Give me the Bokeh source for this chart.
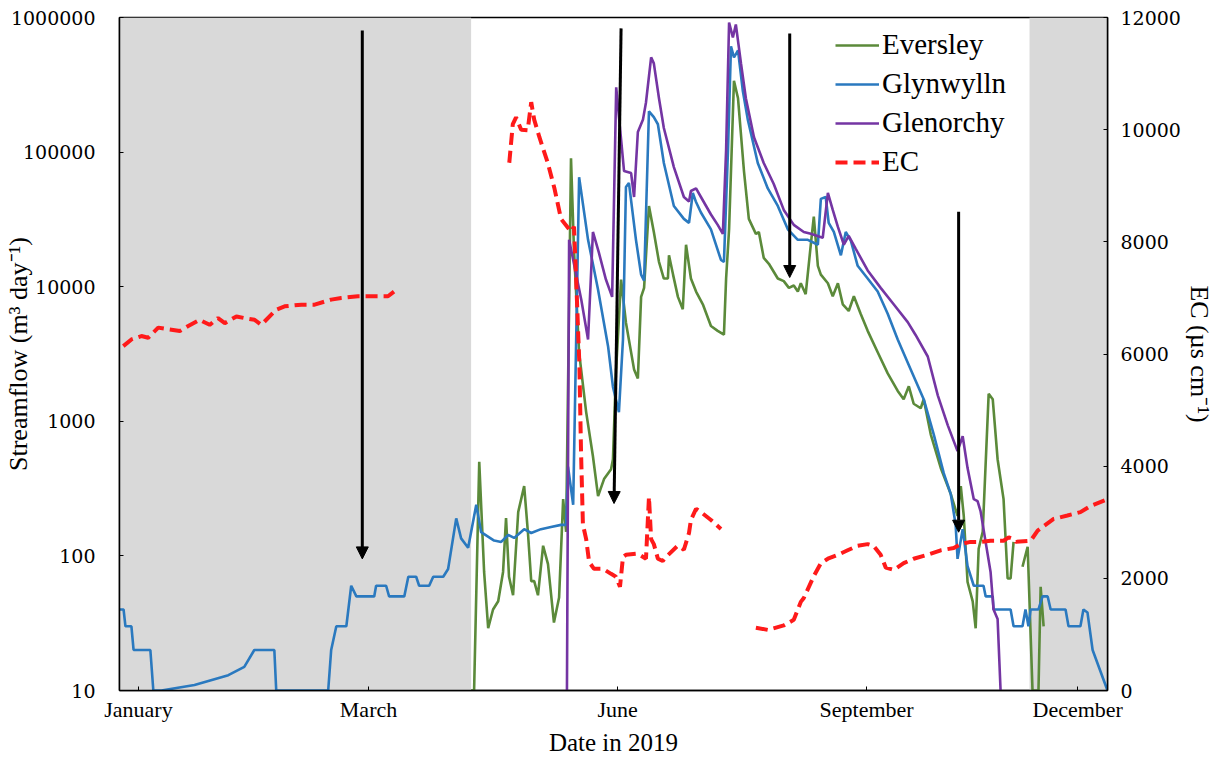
from bokeh.plotting import figure
from bokeh.models import (Range1d, LinearAxis, LinearScale, FixedTicker, PrintfTickFormatter,
                          BoxAnnotation, Arrow, NormalHead, Legend, LegendItem)
from bokeh.embed import file_html
from bokeh.resources import INLINE

NaN = float("nan")

# ---- Glynwylln streamflow (day of year, m3/day) ----
gly_day = [0, 1.5, 2.2, 4.4, 5.2, 11.4, 12.5, 15.5, 27.7, 40.2,
           46.1, 49.8, 57.2, 57.9, 77.1, 78.2, 80.1, 83.8, 85.6, 87.5,
           94.1, 94.8, 98.5, 99.6, 105.2, 106.7, 109.6, 110.7, 114.4, 115.9,
           119.6, 121.4, 124.4, 126.2, 128.8, 131.8, 133.6, 138.4, 141.0, 143.6,
           145.8, 149.5, 152.1, 155.7, 159.4, 163.1, 165.0, 165.7, 167.6, 169.8,
           173.1, 176.8, 180.5, 182.3, 184.5, 186.0, 187.1, 188.2, 190.8, 192.7,
           193.8, 195.6, 197.4, 198.9, 201.1, 204.8, 208.5, 210.4, 211.8, 212.9,
           214.8, 218.5, 222.2, 223.3, 224.8, 225.9, 227.0, 228.5, 230.3, 232.1,
           235.8, 239.5, 243.2, 246.9, 250.6, 254.3, 258.0, 259.1, 260.9, 262.0,
           263.9, 266.5, 268.3, 270.2, 272.7, 276.4, 280.1, 283.8, 287.5, 292.3,
           297.1, 300.8, 304.5, 307.1, 308.9, 309.6, 311.5, 313.3, 315.6, 317.0,
           319.2, 320.0, 322.6, 322.9, 329.2, 330.3, 333.6, 334.7, 335.8, 336.6,
           339.5, 341.0, 342.9, 344.0, 349.5, 350.6, 355.0, 356.1, 357.6, 359.5,
           365]
gly_flow = [40, 40, 30, 30, 20, 20, 10, 10, 11, 13,
            15, 20, 20, 10, 10, 20, 30, 30, 60, 50,
            50, 60, 60, 50, 50, 70, 70, 60, 60, 70,
            70, 80, 190, 135, 115, 240, 150, 130, 127, 143,
            136, 158, 148, 158, 164, 170, 170, 460, 240, 65000,
            22300, 9500, 3600, 1800, 1170, 4050, 55000, 59000, 22300, 12300,
            11100, 201000, 182000, 161000, 83000, 39800, 31900, 29800, 49700, 43000,
            35600, 26700, 15800, 15300, 103500, 610000, 506000, 570000, 283000, 175000,
            83000, 53700, 39800, 26700, 22300, 22300, 20500, 44900, 46400, 29800,
            25500, 17100, 25500, 21900, 14300, 11500, 9200, 6300, 4050, 2430,
            1460, 800, 412, 288, 170, 95, 158, 84, 60, 60,
            60, 50, 50, 40, 40, 30, 30, 40, 30, 40,
            40, 50, 50, 40, 40, 30, 30, 40, 38, 20,
            10]

# ---- Eversley streamflow ----
eve_day = [129.9, 131.0, 132.9, 134.7, 136.2, 138.0, 139.9, 141.7, 142.8, 143.9,
           145.4, 147.3, 149.5, 150.9, 152.1, 153.2, 154.6, 156.5, 158.3, 160.5,
           162.4, 163.9, 165.0, 166.8, 167.9, 169.8, 172.4, 174.9, 176.8, 179.0,
           181.6, 182.3, 183.4, 185.3, 187.1, 190.1, 191.5, 192.7, 193.8, 195.6,
           197.4, 199.3, 201.1, 202.6, 203.0, 204.5, 206.3, 208.1, 209.3, 211.1,
           213.0, 215.5, 218.5, 221.0, 223.3, 224.1, 225.2, 227.0, 228.5, 230.7,
           232.5, 235.1, 236.2, 238.0, 239.9, 243.2, 245.4, 247.3, 249.1, 250.6,
           251.7, 253.5, 255.4, 256.5, 258.0, 259.1, 261.7, 263.5, 265.4, 267.2,
           269.4, 271.3, 273.8, 276.4, 280.1, 283.8, 287.5, 289.7, 291.6, 293.4,
           296.0, 297.1, 299.7, 303.4, 307.1, 309.6, 310.8, 311.9, 313.3, 315.2,
           316.3, 317.4, 318.9, 321.1, 322.6, 324.4, 326.6, 328.1, 329.2, 330.3,
           331.5, 333.6, 335.5, 337.3, 339.5, 340.3, 341.4]
eve_flow = [10, 10, 500, 76, 29, 40, 46, 76, 191, 70,
            51, 212, 330, 148, 65, 65, 51, 119, 87, 32,
            49, 264, 151, 90000, 18800, 3240, 1170, 550, 278, 372,
            440, 523, 2300, 11300, 5400, 2430, 2080, 8400, 9800, 39800,
            25500, 15300, 11500, 11500, 17100, 12300, 8400, 6800, 20500, 11500,
            9200, 7400, 5100, 4700, 4400, 11500, 26700, 339000, 251000, 72300,
            31900, 24700, 25500, 16400, 14800, 11500, 11000, 9800, 10200, 9200,
            10600, 8800, 20600, 33200, 14300, 12300, 10600, 8500, 10600, 7400,
            6600, 8500, 6300, 4700, 3260, 2270, 1680, 1460, 1820, 1350,
            1250, 1460, 800, 450, 288, 198, 330, 198, 64, 46,
            29, 113, 151, 1600, 1460, 523, 264, 68, 68, 127,
            NaN, 83, 117, 10, 10, 59, 30]

# ---- Glenorchy streamflow ----
gle_day = [165.3, 166.1, 170.6, 173.1, 174.9, 177.1, 179.7, 182.0, 183.5, 186.4,
           189.0, 190.1, 191.5, 193.4, 194.5, 196.4, 197.4, 199.3, 201.1, 204.8,
           208.5, 210.4, 211.1, 213.0, 214.8, 218.5, 221.0, 222.9, 224.1, 225.2,
           226.6, 227.7, 229.6, 231.4, 234.4, 238.0, 241.7, 245.4, 249.1, 252.8,
           255.4, 259.8, 261.7, 263.5, 265.4, 267.6, 269.4, 272.0, 276.4, 281.2,
           286.0, 291.2, 294.1, 298.6, 302.3, 306.0, 309.6, 311.5, 313.3, 315.6,
           317.0, 318.1, 321.8, 322.9, 324.4, 325.5]
gle_flow = [10, 22300, 8000, 4050, 25500, 17900, 11300, 8400, 303000, 72300,
            69800, 46400, 141000, 175000, 234000, 506000, 456000, 251000, 151000, 77400,
            46400, 43000, 51400, 53700, 46400, 34400, 28800, 24700, 103500, 918000,
            711000, 887000, 456000, 251000, 129000, 83000, 57900, 37200, 28800, 25500,
            24700, 23100, 49700, 37200, 27800, 20500, 23900, 19100, 13200, 9800,
            7400, 5460, 4380, 3030, 1560, 933, 600, 774, 449, 264,
            255, 215, 76, 40, 34, 10]

# ---- Electrical conductivity (uS/cm), right axis ----
ec_day = [1.4, 4.4, 8.1, 10.6, 14.3, 18.0, 22.3, 25.4, 29.6, 33.3,
          36.4, 38.9, 43.2, 46.2, 49.9, 52.4, 57.9, 61.0, 67.2, 72.1,
          78.2, 81.9, 88.1, 93.0, 99.2, 101.6, 120.0,
          144.0, 145.3, 146.5, 148.4, 150.8, 152.1, 153.2, 155.1, 158.2, 160.7,
          163.1, 166.8, 167.9, 168.7, 169.9, 170.5, 171.2, 172.4, 173.5, 175.3,
          178.6, 181.6, 183.4, 184.9, 186.0, 187.1, 191.5, 194.5, 195.6, 196.4,
          197.4, 198.9, 200.7, 201.9, 206.2, 208.5, 210.4, 211.1, 213.0, 214.8,
          218.5, 222.2, 228.0,
          235.1, 239.5, 245.4, 249.1, 251.7, 252.8, 256.5, 259.1, 261.7, 265.4,
          269.0, 272.7, 276.4, 278.6, 281.2, 283.1, 286.0, 289.7, 293.4, 298.6,
          303.4, 308.2, 310.8, 314.4, 318.1, 321.8, 326.6, 328.5, 330.3, 331.1,
          336.6, 339.2, 345.1, 350.2, 355.0, 358.7, 365]
ec_val = [6140, 6260, 6320, 6290, 6470, 6440, 6410, 6500, 6610, 6520,
          6640, 6550, 6670, 6640, 6610, 6520, 6790, 6850, 6880, 6880,
          6970, 7000, 7030, 7030, 7030, 7120, NaN,
          9410, 10100, 10220, 10000, 9990, 10490, 10180, 9870, 9410, 8950,
          8410, 8180, 8270, 7340, 5800, 4270, 2960, 2700, 2290, 2170,
          2170, 2080, 2030, 1850, 2380, 2420, 2440, 2350, 3450, 2700,
          2610, 2350, 2310, 2380, 2580, 2510, 2810, 3040, 3240, 3180,
          3040, 2880, NaN,
          1120, 1080, 1160, 1260, 1580, 1650, 2040, 2270, 2350, 2420,
          2500, 2580, 2610, 2580, 2420, 2190, 2150, 2270, 2350, 2420,
          2500, 2540, 2610, 2650, 2650, 2670, 2670, 2730, 2700, 2650,
          2670, 2850, 3060, 3120, 3180, 3290, 3410]

# ---- axis ticks ----
month_ticks = [7, 92, 184, 276, 354]
month_labels = ["January", "March", "June", "September", "December"]
flow_ticks = [10, 100, 1000, 10000, 100000, 1000000]
ec_ticks = [0, 2000, 4000, 6000, 8000, 10000, 12000]

# shaded periods (day of year)
shade_start = [0, 336.2]
shade_end = [129.9, 365]

# event arrows: (day at top, flow at top, day at tip, flow at tip)
arrow_day_top = [89.7, 185.3, 247.6, 310.0]
arrow_flow_top = [800000, 830000, 760000, 36000]
arrow_day_tip = [89.7, 182.7, 247.6, 310.0]
arrow_flow_tip = [95, 245, 11700, 150]

SERIF = "Liberation Serif"
TICKFONT = "DejaVu Serif"

p = figure(width=1216, height=758, x_range=Range1d(0, 365), y_range=Range1d(10, 1e6),
           y_axis_type="log", output_backend="svg", toolbar_location=None,
           min_border_left=118, min_border_right=109, min_border_top=17, min_border_bottom=66)
p.extra_y_ranges = {"ec": Range1d(0, 12000)}
p.extra_y_scales = {"ec": LinearScale()}
p.xgrid.visible = False
p.ygrid.visible = False
p.outline_line_color = "black"
p.outline_line_width = 1.5
p.background_fill_color = "white"

for s, e in zip(shade_start, shade_end):
    p.add_layout(BoxAnnotation(left=s, right=e, fill_color="#d9d9d9", fill_alpha=1.0,
                               line_alpha=0, level="underlay"))

r_eve = p.line(eve_day, eve_flow, line_color="#5b8a3a", line_width=2.6)
r_gly = p.line(gly_day, gly_flow, line_color="#2a79bf", line_width=2.6)
r_gle = p.line(gle_day, gle_flow, line_color="#7435a3", line_width=2.6)
r_ec = p.line(ec_day, ec_val, y_range_name="ec", line_color="#ff1a1a", line_width=4,
              line_dash="12 6")

for xt, yt, xe, ye in zip(arrow_day_top, arrow_flow_top, arrow_day_tip, arrow_flow_tip):
    p.add_layout(Arrow(end=NormalHead(size=12, fill_color="black", line_color="black"),
                       x_start=xt, y_start=yt, x_end=xe, y_end=ye,
                       line_width=3, line_color="black"))

# axes
lax = p.yaxis[0]
lax.ticker = FixedTicker(ticks=flow_ticks)
lax.formatter = PrintfTickFormatter(format="%d")
rax = LinearAxis(y_range_name="ec", ticker=FixedTicker(ticks=ec_ticks))
p.add_layout(rax, "right")
bax = p.xaxis[0]
bax.ticker = FixedTicker(ticks=month_ticks)
bax.major_label_overrides = {t: l for t, l in zip(month_ticks, month_labels)}

for ax in (lax, rax, bax):
    ax.axis_line_color = "black"
    ax.axis_line_width = 1.5
    ax.major_tick_in = 4
    ax.major_tick_out = 0
    ax.minor_tick_in = 0
    ax.minor_tick_out = 0
    ax.major_tick_line_color = "black"
    ax.major_label_text_color = "black"
    ax.axis_label_text_font = SERIF
    ax.axis_label_text_font_style = "normal"
    ax.axis_label_text_color = "black"

for ax in (lax, rax):
    ax.major_label_text_font = TICKFONT
    ax.major_label_text_font_size = "19px"
    ax.axis_label_text_font_size = "26px"
lax.major_label_standoff = 24
rax.major_label_standoff = 13
lax.axis_label = "Streamflow (m³ day⁻¹)"
lax.axis_label_standoff = -25
rax.axis_label = "EC (µs cm⁻¹)"
rax.axis_label_standoff = 1

bax.major_label_text_font = SERIF
bax.major_label_text_font_size = "22px"
bax.major_label_standoff = 6
bax.axis_label = "Date in 2019"
bax.axis_label_text_font_size = "25px"
bax.axis_label_standoff = 4

legend = Legend(items=[LegendItem(label="Eversley", renderers=[r_eve]),
                       LegendItem(label="Glynwylln", renderers=[r_gly]),
                       LegendItem(label="Glenorchy", renderers=[r_gle]),
                       LegendItem(label="EC", renderers=[r_ec])],
                location=(716, 512))
legend.background_fill_alpha = 0
legend.border_line_alpha = 0
legend.label_text_font = SERIF
legend.label_text_font_size = "29px"
legend.label_text_color = "black"
legend.glyph_width = 44
legend.glyph_height = 20
legend.label_standoff = 3
legend.spacing = 6
legend.padding = 0
legend.margin = 0
p.add_layout(legend)

open("out.html", "w").write(file_html(p, INLINE))
